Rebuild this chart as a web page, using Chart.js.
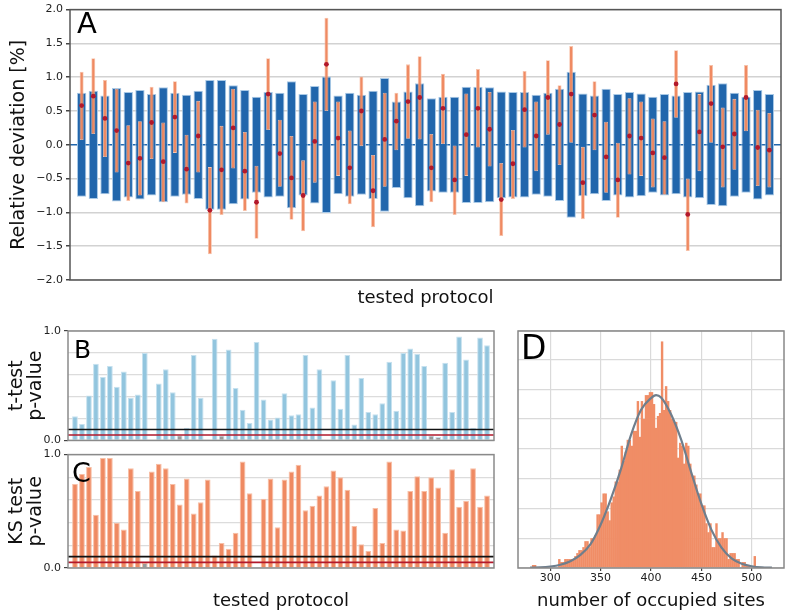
<!DOCTYPE html>
<html>
<head>
<meta charset="utf-8">
<script src="https://cdn.jsdelivr.net/npm/chart.js@4.4.0/dist/chart.umd.min.js"></script>
<style>
  html, body { margin: 0; padding: 0; background: #fff; }
  #wrap { position: relative; width: 785px; height: 612px; overflow: hidden; }
  canvas { position: absolute; }
</style>
</head>
<body>
<div id="wrap">
  <canvas id="cA" width="785" height="312" style="left:0;top:0"></canvas>
  <canvas id="cB" width="500" height="130" style="left:0;top:320px"></canvas>
  <canvas id="cC" width="500" height="167" style="left:0;top:445px"></canvas>
  <canvas id="cD" width="285" height="292" style="left:500px;top:320px"></canvas>
</div>
<script>
const FONT = '"DejaVu Sans", sans-serif';

// tested protocols 1..60
const protocols = Array.from({ length: 60 }, (_, i) => String(i + 1));

// panel A: blue band half width, orange range, mean (red dot)
const blueHalf = [0.77, 0.80, 0.73, 0.84, 0.78, 0.81, 0.75, 0.85, 0.77, 0.74,
  0.80, 0.96, 0.96, 0.88, 0.81, 0.71, 0.78, 0.77, 0.94, 0.75,
  0.87, 1.01, 0.73, 0.77, 0.74, 0.80, 0.99, 0.64, 0.79, 0.91,
  0.69, 0.71, 0.71, 0.86, 0.86, 0.85, 0.79, 0.78, 0.78, 0.74,
  0.77, 0.83, 1.08, 0.76, 0.73, 0.83, 0.75, 0.78, 0.76, 0.71,
  0.75, 0.73, 0.78, 0.79, 0.89, 0.91, 0.77, 0.71, 0.81, 0.75];
const orangeLow = [0.07, 0.16, -0.18, -0.41, -0.83, -0.75, -0.21, -0.85, -0.12, -0.87,
  -0.41, -1.62, -1.04, -0.35, -0.98, -1.39, 0.22, -0.62, -1.11, -1.28,
  -0.56, 0.50, -0.46, -0.88, -0.02, -1.22, -0.62, -0.08, 0.09, 0.08,
  -0.85, 0.01, -1.04, -0.46, -0.04, -0.32, -1.35, -0.80, -0.04, -0.39,
  0.15, -0.30, 0.03, -1.10, -0.08, -0.71, -1.08, -0.44, -0.46, -0.63,
  -0.74, 0.40, -1.57, -0.39, 0.03, -0.63, -0.37, 0.20, -0.61, -0.63];
const orangeHigh = [1.08, 1.28, 0.96, 0.83, 0.29, 0.35, 0.86, 0.33, 0.94, 0.15,
  0.65, -0.33, 0.28, 0.83, 0.19, -0.31, 1.28, 0.37, 0.13, -0.23,
  0.64, 1.88, 0.64, 0.21, 1.01, -0.15, 0.77, 0.77, 1.19, 1.31,
  0.16, 1.05, -0.01, 0.76, 1.12, 0.78, -0.27, 0.22, 1.09, 0.64,
  1.25, 0.88, 1.46, -0.03, 0.94, 0.34, 0.03, 0.69, 0.64, 0.39,
  0.35, 1.40, -0.50, 0.75, 1.18, 0.55, 0.68, 1.18, 0.52, 0.47];
const meanDev = [0.58, 0.72, 0.39, 0.21, -0.27, -0.20, 0.33, -0.25, 0.41, -0.36,
  0.13, -0.97, -0.37, 0.25, -0.39, -0.85, 0.75, -0.13, -0.49, -0.75,
  0.05, 1.19, 0.10, -0.34, 0.50, -0.68, 0.08, 0.35, 0.64, 0.70,
  -0.34, 0.54, -0.52, 0.15, 0.54, 0.23, -0.81, -0.28, 0.52, 0.13,
  0.70, 0.30, 0.75, -0.56, 0.44, -0.18, -0.52, 0.13, 0.10, -0.12,
  -0.19, 0.90, -1.03, 0.19, 0.61, -0.03, 0.16, 0.70, -0.04, -0.08];

// panel B / C p-values
const tPvalues = [0.22, 0.15, 0.41, 0.70, 0.58, 0.68, 0.49, 0.63, 0.39, 0.42,
  0.80, 0, 0.52, 0.65, 0.44, 0.048, 0.115, 0.78, 0.39, 0,
  0.93, 0.045, 0.83, 0.48, 0.28, 0.16, 0.90, 0.375, 0.19, 0.21,
  0.43, 0.23, 0.24, 0.78, 0.30, 0.65, 0, 0.55, 0.29, 0.78,
  0.145, 0.57, 0.26, 0.24, 0.34, 0.72, 0.27, 0.80, 0.84, 0.79,
  0.68, 0.045, 0.032, 0.71, 0.26, 0.95, 0.74, 0.115, 0.94, 0.87];
const ksPvalues = [0.74, 0.83, 0.89, 0.47, 0.97, 0.97, 0.40, 0.34, 0.88, 0.68,
  0.045, 0.85, 0.92, 0.88, 0.74, 0.56, 0.79, 0.48, 0.58, 0.78,
  0.11, 0.22, 0.17, 0.31, 0.94, 0.66, 0, 0.61, 0.79, 0.36,
  0.78, 0.85, 0.91, 0.51, 0.55, 0.64, 0.72, 0.86, 0.80, 0.69,
  0.37, 0.21, 0.15, 0.53, 0.22, 0.94, 0.34, 0.33, 0.68, 0.81,
  0.68, 0.80, 0.71, 0.31, 0.87, 0.54, 0.59, 0.88, 0.54, 0.64];
const pThresholds = [0.1, 0.05];
const thresholdColors = ['#111111', '#b2182b'];

// panel D histogram (bins of 2 starting at 280) and fitted curve
const histStart = 280;
const histBin = 2;
const histCounts = [0, 1, 1, 0, 0, 0, 0, 0, 0, 0,
  0, 0, 0, 0, 3, 2, 2, 3, 3, 3,
  3, 3, 4, 5, 6, 6, 7, 9, 9, 7,
  10, 10, 11, 18, 18, 22, 25, 25, 19, 16,
  22, 24, 29, 29, 33, 41, 36, 39, 43, 43,
  41, 46, 46, 56, 44, 56, 50, 58, 58, 59,
  59, 55, 47, 51, 52, 76, 53, 61, 56, 53,
  50, 49, 49, 37, 42, 41, 35, 42, 41, 35,
  31, 31, 28, 25, 25, 21, 21, 15, 12, 15,
  7, 7, 15, 10, 10, 12, 10, 10, 3, 5,
  5, 5, 3, 3, 0, 2, 2, 1, 1, 0,
  0, 4, 0, 0, 0, 0, 0, 0, 0, 0];
const fitX = [280, 290, 300, 310, 320, 330, 340, 350, 360, 370, 380, 390, 400, 405,
  410, 420, 430, 440, 450, 460, 470, 480, 490, 500, 510, 520];
const fitY = [0.1, 0.2, 0.5, 1.1, 2.3, 4.4, 8.0, 14.5, 23, 33, 44.5, 53, 57, 58,
  57.2, 51.5, 43, 32, 21.5, 12.8, 6.8, 3.2, 1.4, 0.6, 0.2, 0.1];
const dTicks = [300, 350, 400, 450, 500];

const labels = ['', ...protocols, ''];
const pad = arr => [null, ...arr, null];
const fmt = v => (v < 0 ? '\u2212' : '') + Math.abs(v).toFixed(1);

// box around the plot area plus the panel letter
const frame = {
  id: 'frame',
  afterDraw(chart, args, o) {
    const { ctx, chartArea: a } = chart;
    ctx.save();
    ctx.strokeStyle = o.color;
    ctx.lineWidth = 1.5;
    ctx.strokeRect(a.left, a.top, a.right - a.left, a.bottom - a.top);
    ctx.fillStyle = '#000';
    ctx.font = o.size + 'px ' + FONT;
    ctx.textBaseline = 'alphabetic';
    ctx.fillText(o.letter, o.x, o.y);
    ctx.restore();
  }
};

// significance lines on the p-value panels
const thresholds = {
  id: 'thresholds',
  afterDatasetsDraw(chart) {
    const { ctx, chartArea: a, scales: { y } } = chart;
    ctx.save();
    pThresholds.forEach((v, i) => {
      const py = y.getPixelForValue(v);
      ctx.strokeStyle = thresholdColors[i];
      ctx.lineWidth = 1.6;
      ctx.beginPath();
      ctx.moveTo(a.left, py);
      ctx.lineTo(a.right, py);
      ctx.stroke();
    });
    ctx.restore();
  }
};

Chart.defaults.font.family = FONT;
Chart.defaults.color = '#222';
Chart.defaults.animation = false;

// A
new Chart(document.getElementById('cA'), {
  type: 'bar',
  data: {
    labels: labels,
    datasets: [
      {
        type: 'line', data: pad(meanDev), showLine: false,
        pointRadius: 2.4, pointBackgroundColor: '#b2182b', pointBorderWidth: 0, order: 0
      },
      {
        data: pad(orangeLow.map((lo, i) => [lo, orangeHigh[i]])),
        backgroundColor: '#ef8a62', borderColor: '#f8c3ab', borderWidth: 0.8, borderSkipped: false,
        barPercentage: 0.34, categoryPercentage: 1, grouped: false, order: 1
      },
      {
        data: pad(blueHalf.map(h => [-h, h])),
        backgroundColor: '#2166ac', borderColor: '#a9c9e6', borderWidth: 1, borderSkipped: false,
        barPercentage: 0.8, categoryPercentage: 1, grouped: false, order: 2
      }
    ]
  },
  options: {
    responsive: false,
    layout: { padding: { top: 3, right: 1, left: 0, bottom: 0 } },
    plugins: {
      legend: { display: false },
      tooltip: { enabled: false },
      frame: { color: '#555', letter: 'A', size: 29, x: 77, y: 33 }
    },
    scales: {
      x: {
        offset: false,
        grid: { display: false },
        border: { display: false },
        ticks: { display: false },
        title: { display: true, text: 'tested protocol', font: { size: 18 }, color: '#111', padding: { top: 0, bottom: 3 } },
        afterFit: s => { s.height = 32; }
      },
      y: {
        min: -2, max: 2,
        ticks: { stepSize: 0.5, font: { size: 11 }, callback: v => fmt(v) },
        grid: {
          color: c => (c.tick && c.tick.value === 0) ? '#2166ac' : '#d2d2d2',
          lineWidth: 1.5, tickColor: '#444', tickLength: 4
        },
        border: { display: false },
        title: { display: true, text: 'Relative deviation [%]', font: { size: 19 }, color: '#111', padding: { top: 8, bottom: 0 } },
        afterFit: s => { s.width = 70; }
      }
    }
  },
  plugins: [frame]
});

function pPanel(id, values, color, edge, letterOpts, yTitle, xTitle, padTop, xHeight) {
  const edgeTick = v => Math.abs(v) < 1e-6 || Math.abs(v - 1) < 1e-6;
  return new Chart(document.getElementById(id), {
    type: 'bar',
    data: {
      labels: labels,
      datasets: [{
        data: pad(values),
        backgroundColor: c => (c.raw != null && c.raw < 0.05) ? '#9a9a9a' : color,
        borderColor: edge, borderWidth: 1,
        barPercentage: 0.82, categoryPercentage: 1
      }]
    },
    options: {
      responsive: false,
      layout: { padding: { top: padTop, right: 6, left: 0, bottom: 0 } },
      plugins: {
        legend: { display: false },
        tooltip: { enabled: false },
        frame: Object.assign({ color: '#8a8a8a' }, letterOpts)
      },
      scales: {
        x: {
          offset: false,
          grid: { display: false },
          border: { display: false },
          ticks: { display: false },
          title: { display: !!xTitle, text: xTitle || '', font: { size: 18 }, color: '#111', padding: { top: 0, bottom: 0 } },
          afterFit: s => { s.height = xHeight; }
        },
        y: {
          min: 0, max: 1,
          ticks: {
            stepSize: 0.1, font: { size: 11 }, padding: 3,
            callback: v => Math.abs(v) < 1e-6 ? '0.0' : (Math.abs(v - 1) < 1e-6 ? '1.0' : '')
          },
          grid: {
            color: '#dcdcdc', lineWidth: 1.2, tickLength: 4,
            tickColor: c => (c.tick && edgeTick(c.tick.value)) ? '#444' : 'rgba(0,0,0,0)'
          },
          border: { display: false },
          title: { display: true, text: yTitle, font: { size: 19, lineHeight: 1.0 }, color: '#111', padding: { top: 8, bottom: 0 } },
          afterFit: s => { s.width = 68; }
        }
      }
    },
    plugins: [frame, thresholds]
  });
}

pPanel('cB', tPvalues, '#92c5de', '#c6e1ef', { letter: 'B', size: 25, x: 74, y: 38 },
  ['t-test', 'p-value'], null, 11, 6);
pPanel('cC', ksPvalues, '#ef8a62', '#f8bfa6', { letter: 'C', size: 27, x: 72, y: 37 },
  ['KS test', 'p-value'], 'tested protocol', 9, 44);

// D
new Chart(document.getElementById('cD'), {
  type: 'bar',
  data: {
    datasets: [
      {
        type: 'line', data: fitX.map((x, i) => ({ x: x, y: fitY[i] })),
        borderColor: '#6f7e8c', borderWidth: 2.2, pointRadius: 0,
        cubicInterpolationMode: 'monotone', order: 0
      },
      {
        data: histCounts.map((c, i) => ({ x: histStart + histBin * i + histBin / 2, y: c })),
        backgroundColor: '#f08d66', borderWidth: 0,
        barPercentage: 1.2, categoryPercentage: 1, order: 1
      }
    ]
  },
  options: {
    responsive: false,
    layout: { padding: { top: 11, right: 1, left: 0, bottom: 0 } },
    plugins: {
      legend: { display: false },
      tooltip: { enabled: false },
      frame: { color: '#888', letter: 'D', size: 33, x: 21, y: 39 }
    },
    scales: {
      x: {
        type: 'linear', min: 268, max: 532, offset: false,
        afterBuildTicks: s => { s.ticks = dTicks.map(v => ({ value: v })); },
        ticks: { font: { size: 11 }, padding: 1, callback: v => String(v) },
        grid: { color: '#dadada', lineWidth: 1.2, tickColor: '#444', tickLength: 3, offset: false },
        border: { display: false },
        title: { display: true, text: 'number of occupied sites', font: { size: 18 }, color: '#111', padding: { top: 0, bottom: 0 } },
        afterFit: s => { s.height = 44; }
      },
      y: {
        min: 0, max: 79.5,
        ticks: { display: false, stepSize: 10 },
        grid: { color: '#dadada', lineWidth: 1.2, drawTicks: false },
        border: { display: false },
        afterFit: s => { s.width = 18; }
      }
    }
  },
  plugins: [frame]
});
</script>
</body>
</html>
